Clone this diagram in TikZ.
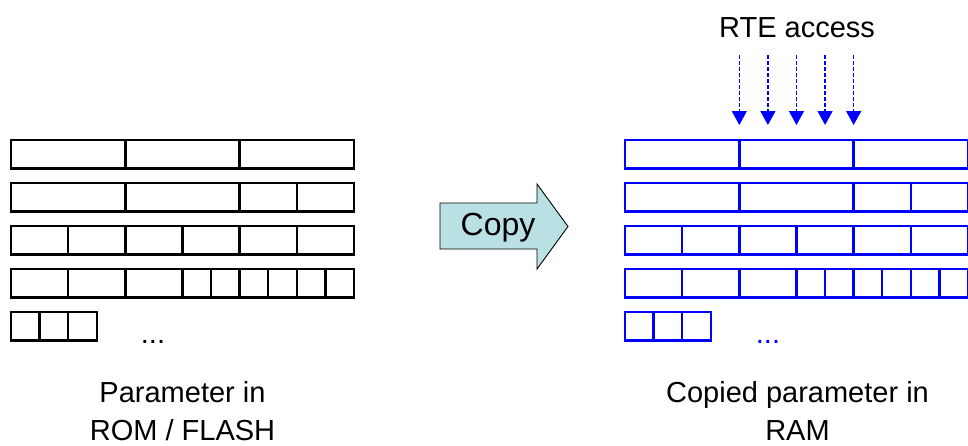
\documentclass[tikz,border=0pt]{standalone}
\usepackage{fontspec}
\setmainfont{Liberation Sans}
\usepackage{tikz}
\usetikzlibrary{arrows.meta}
\definecolor{ramblue}{RGB}{0,0,255}
\definecolor{copyfill}{RGB}{185,225,228}

\begin{document}
\begin{tikzpicture}[x = 1pt, y = -1pt, cell/.style={line width = 2.4pt}, rte/.style={ramblue, line width = 1.3pt, dash pattern = on 4pt off 2pt, -{Triangle[width = 15pt, length = 14pt]}}, txt/.style={font=\fontsize{29}{38}\selectfont, inner sep = 0pt, align = center}]
	
	\useasboundingbox (0,0) rectangle (968,445);
	
	\foreach \xo/\col in {11/black, 625/ramblue}{
		\foreach \r/\len/\cuts in {0/12/{4,8}, 1/12/{4,8,10}, 2/12/{2,4,6,8,10}, 3/12/{2,4,6,7,8,9,10,11}, 4/3/{1,2}}{
			\draw[cell, \col] (\xo,{140+43*\r}) rectangle ({\xo+\len*28.58},{168.5+43*\r});
			\foreach \c in \cuts
				\draw[cell, \col] ({\xo+\c*28.58},{140+43*\r}) -- ++(0,28.5);
		}
	}
	
	\foreach \k in {4,...,8}{
		\coordinate (rtetop\k) at ({625+\k*28.58},55);
		\coordinate (rtetip\k) at ({625+\k*28.58},125);
		\draw[rte] (rtetop\k) -- (rtetip\k);
	}
	
	\draw[fill = copyfill, line width = 0.9pt] (440,203) -- (537,203) -- (537,184) -- (568,226.5) -- (537,269) -- (537,249) -- (440,249) -- cycle;
	\node[txt, font=\fontsize{32}{38}\selectfont, anchor = base] (copy) at (498,235) {Copy};
	
	\node[txt, anchor = base] (rte) at (797,37) {RTE access};
	\node[txt, anchor = base] (romdots) at (153,343) {...};
	\node[txt, anchor = base, ramblue] (ramdots) at (768,343) {...};
	\node[txt, anchor = north] (rom) at (182.5,381) {Parameter in\\ROM / FLASH};
	\node[txt, anchor = north] (ram) at (797.5,381) {Copied parameter in\\RAM};
	
\end{tikzpicture}
\end{document}
